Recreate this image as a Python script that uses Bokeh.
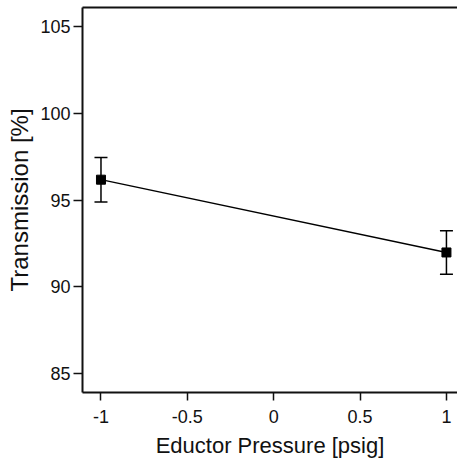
from bokeh.plotting import figure
from bokeh.models import (ColumnDataSource, Whisker, TeeHead, FixedTicker,
                          LinearAxis, Range1d)
from bokeh.embed import file_html
from bokeh.resources import INLINE

# Measured transmission vs eductor pressure
pressure = [-1, 1]
transmission = [96.17, 91.98]
err = [1.28, 1.25]

x_ticks = [-1, -0.5, 0, 0.5, 1]
x_tick_labels = ["-1", "-0.5", "0", "0.5", "1"]
y_ticks = [85, 90, 95, 100, 105]
y_tick_labels = ["85", "90", "95", "100", "105"]

FONT = "Liberation Sans"
INK = "#111111"

src = ColumnDataSource(dict(
    x=pressure,
    y=transmission,
    upper=[v + e for v, e in zip(transmission, err)],
    lower=[v - e for v, e in zip(transmission, err)],
))

p = figure(width=457, height=462, output_backend="svg", toolbar_location=None,
           x_range=Range1d(-1.107, 1.064), y_range=Range1d(83.92, 106.08),
           min_border_left=82, min_border_right=0, min_border_top=7,
           min_border_bottom=70)
p.outline_line_color = None
p.xgrid.visible = False
p.ygrid.visible = False
p.background_fill_color = "white"
p.border_fill_color = "white"

p.line("x", "y", source=src, line_color="black", line_width=1.4)
p.scatter("x", "y", source=src, marker="square", size=9, fill_color="black",
          line_color="black")

head_u = TeeHead(size=13, line_color="black", line_width=1.5)
head_l = TeeHead(size=13, line_color="black", line_width=1.5)
p.add_layout(Whisker(base="x", upper="upper", lower="lower", source=src,
                     line_color="black", line_width=1.5,
                     upper_head=head_u, lower_head=head_l))

for ax in (p.xaxis[0], p.yaxis[0]):
    ax.axis_line_color = INK
    ax.axis_line_width = 2
    ax.major_tick_line_color = INK
    ax.major_tick_line_width = 1.5
    ax.major_tick_in = 0
    ax.minor_tick_line_color = None
    ax.major_label_text_font = FONT
    ax.major_label_text_font_size = "18px"
    ax.major_label_text_color = INK
    ax.axis_label_text_font = FONT
    ax.axis_label_text_font_style = "normal"
    ax.axis_label_text_color = INK

p.xaxis[0].ticker = FixedTicker(ticks=x_ticks)
p.xaxis[0].major_label_overrides = dict(zip(x_ticks, x_tick_labels))
p.xaxis[0].axis_label = "Eductor Pressure [psig]"
p.xaxis[0].major_tick_out = 8
p.xaxis[0].major_label_standoff = 9
p.xaxis[0].axis_label_standoff = 7
p.xaxis[0].axis_label_text_font_size = "22px"

p.yaxis[0].ticker = FixedTicker(ticks=y_ticks)
p.yaxis[0].major_label_overrides = dict(zip(y_ticks, y_tick_labels))
p.yaxis[0].axis_label = "Transmission [%]"
p.yaxis[0].major_tick_out = 9
p.yaxis[0].major_label_standoff = 3
p.yaxis[0].axis_label_standoff = 4
p.yaxis[0].axis_label_text_font_size = "24px"

# top frame line only
top = LinearAxis(ticker=FixedTicker(ticks=[]), major_label_text_font_size="0px",
                 axis_line_color=INK, axis_line_width=2,
                 major_tick_line_color=None, minor_tick_line_color=None)
p.add_layout(top, "above")

open("out.html", "w").write(file_html(p, INLINE))
